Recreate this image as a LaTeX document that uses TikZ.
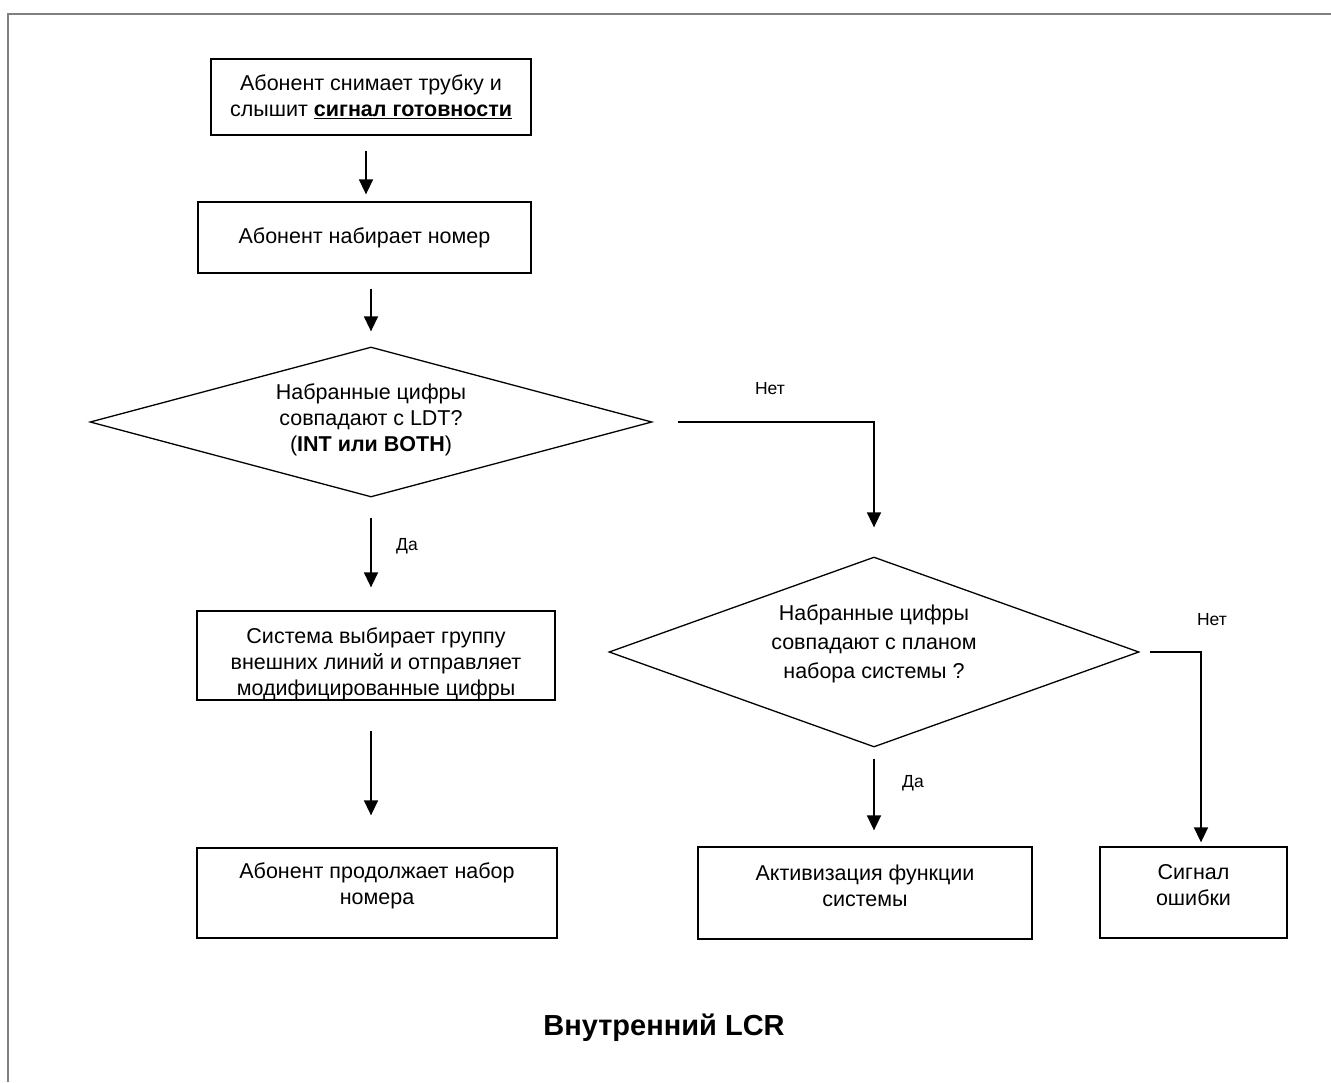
\documentclass[tikz,border=0pt]{standalone}
\usepackage{fontspec}
\setmainfont{Liberation Sans}
\usetikzlibrary{shapes.geometric,arrows.meta}
\begin{document}
\begin{tikzpicture}[x=1pt,y=-1pt,
  txt/.style={font=\fontsize{21.5}{26}\selectfont, align=center, inner sep=0pt},
  box/.style={draw, line width=1.3pt, inner sep=0pt, txt},
  dec/.style={draw, diamond, line width=1.3pt, inner sep=0pt},
  arr/.style={line width=1.6pt, -{Triangle[width=14pt,length=15pt]}},
  lbl/.style={font=\fontsize{17.5}{21}\selectfont, inner sep=0pt},
]
\useasboundingbox (0,0) rectangle (1331,1082);
\draw[line width=2pt, color=black!50] (8,1082) -- (8,14) -- (1331,14);

% boxes
\node[box, minimum width=320, minimum height=76] (b1) at (371,97)
  {Абонент снимает трубку и\\слышит \textbf{\underline{сигнал готовности}}};
\node[box, minimum width=333, minimum height=71] (b2) at (364.5,237.5)
  {Абонент набирает номер};
\node[dec, minimum width=562, minimum height=150] (d1) at (371,422) {};
\node[txt] (d1t) at ([yshift=2pt]d1.center)
  {Набранные цифры\\совпадают с LDT?\\(\textbf{INT или BOTH})};
\node[box, minimum width=358, minimum height=89,
  path picture={\node[txt] (b3t) at ([yshift=-8pt]path picture bounding box.center)
    {Система выбирает группу\\внешних линий и отправляет\\модифицированные цифры};}]
  (b3) at (376,655.5) {};
\node[dec, minimum width=530, minimum height=190] (d2) at (874,652) {};
\node[txt, font=\fontsize{21.5}{29}\selectfont] (d2t) at ([yshift=8pt]d2.center)
  {Набранные цифры\\совпадают с планом\\набора системы ?};
\node[box, minimum width=360, minimum height=90] (b4) at (377,893) {};
\node[txt] (b4t) at ([yshift=7pt]b4.center) {Абонент продолжает набор\\номера};
\node[box, minimum width=334, minimum height=92] (b5) at (865,893) {};
\node[txt] (b5t) at ([yshift=7pt]b5.center) {Активизация функции\\системы};
\node[box, minimum width=187, minimum height=91] (b6) at (1193.5,892.5) {};
\node[txt] (b6t) at ([yshift=7pt]b6.center) {Сигнал\\ошибки};

% connectors
\draw[arr, shorten <=15pt, shorten >=7pt]
  ([xshift=-5pt]b1.south) -- ([xshift=-5pt]b1.south |- b2.north);
\draw[arr, shorten <=15pt, shorten >=15pt] (d1.north |- b2.south) -- (d1.north);
\draw[arr, shorten <=20pt, shorten >=23pt] (d1.south) -- (d1.south |- b3.north);
\draw[arr, shorten <=30pt, shorten >=32pt] (d1.south |- b3.south) -- (d1.south |- b4.north);
\draw[arr, shorten <=25pt, shorten >=29pt] (d1.east) -| (d2.north);
\draw[arr, shorten <=10pt, shorten >=4pt] (d2.east) -| ([xshift=7.5pt]b6.north);
\draw[arr, shorten <=11pt, shorten >=16pt] (d2.south) -- (d2.south |- b5.north);

% labels
\node[lbl] (l1) at (770,389) {Нет};
\node[lbl] (l2) at (1212,620) {Нет};
\node[lbl] (l3) at (407,546) {Да};
\node[lbl] (l4) at (913,783) {Да};

\node[font=\bfseries\fontsize{29}{33}\selectfont, inner sep=0pt] (title) at (664,1028) {Внутренний LCR};
\end{tikzpicture}
\end{document}
